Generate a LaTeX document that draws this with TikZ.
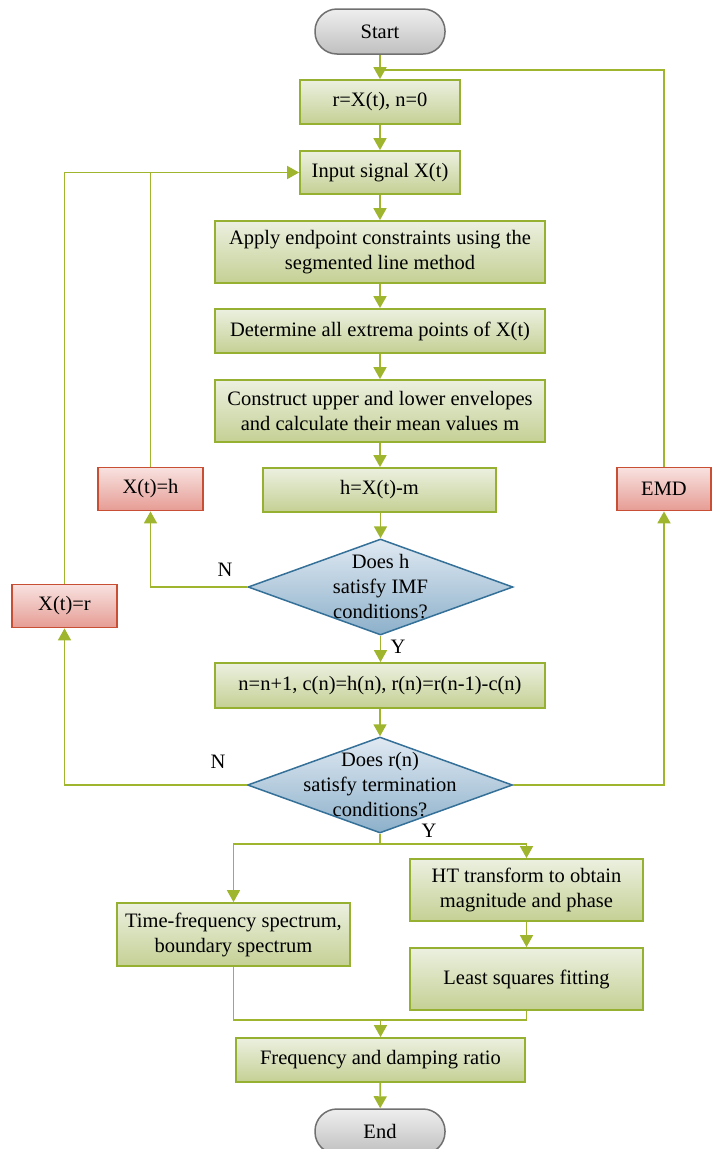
\documentclass[tikz,border=0pt]{standalone}
\usepackage{fontspec}
\setmainfont{Liberation Serif}
\usetikzlibrary{arrows.meta,shapes.geometric}
\definecolor{lnc}{RGB}{158,181,45}
\definecolor{gbd}{RGB}{150,176,50}
\definecolor{gtop}{RGB}{236,240,224}
\definecolor{gbot}{RGB}{196,208,148}
\definecolor{rbd}{RGB}{200,78,52}
\definecolor{rtop}{RGB}{248,226,224}
\definecolor{rbot}{RGB}{230,156,148}
\definecolor{bbd}{RGB}{52,112,152}
\definecolor{btop}{RGB}{224,233,242}
\definecolor{bbot}{RGB}{140,176,202}
\definecolor{tbd}{RGB}{112,112,112}
\definecolor{ttop}{RGB}{238,238,238}
\definecolor{tbot}{RGB}{192,192,192}
\tikzset{
  txt/.style={font=\fontsize{20.5}{25}\selectfont, align=center, text=black},
  gbox/.style={txt, draw=gbd, line width=1.8pt, top color=gtop, bottom color=gbot, inner sep=0pt},
  rbox/.style={txt, draw=rbd, line width=1.8pt, top color=rtop, bottom color=rbot, inner sep=0pt, minimum width=105pt, minimum height=43pt},
  term/.style={txt, draw=tbd, line width=1.5pt, top color=ttop, bottom color=tbot, rounded corners=22pt, minimum width=130pt, minimum height=45pt, inner sep=0pt},
  dia/.style={diamond, draw=bbd, line width=1.5pt, top color=btop, bottom color=bbot, inner sep=0pt, minimum width=265pt, minimum height=96pt},
  diatext/.style={txt, inner sep=0pt},
  conn/.style={draw=lnc, line width=1.8pt, -{Triangle[width=13pt,length=12pt]}},
  plain/.style={draw=lnc, line width=1.8pt},
  lab/.style={txt, inner sep=0pt}
}
\begin{document}
\begin{tikzpicture}[x=1pt,y=-1pt]
\useasboundingbox (0,0) rectangle (712,1149);
% nodes
\node[term] (start) at (380,31.5) {Start};
\node[gbox, minimum width=160pt, minimum height=44pt] (r0) at (380,102) {r=X(t), n=0};
\node[gbox, minimum width=160pt, minimum height=43pt] (input) at (380,172.5) {Input signal X(t)};
\node[gbox, minimum width=330pt, minimum height=62pt] (apply) at (380,252) {Apply endpoint constraints using the\\segmented line method};
\node[gbox, minimum width=330pt, minimum height=44pt] (extr) at (380,331) {Determine all extrema points of X(t)};
\node[gbox, minimum width=330pt, minimum height=62pt] (env) at (380,411) {Construct upper and lower envelopes\\and calculate their mean values m};
\node[gbox, minimum width=233pt, minimum height=44pt] (hbox) at (379.5,490) {h=X(t)-m};
\node[rbox] (xh) at (150.5,489) {X(t)=h};
\node[rbox, minimum width=94pt] (emd) at (664,489) {EMD};
\node[dia] (d1) at (380.5,587) {};
\node[diatext] at (d1.center) {Does h\\satisfy IMF\\conditions?};
\node[rbox] (xr) at (64.5,606) {X(t)=r};
\node[gbox, minimum width=330pt, minimum height=45pt] (nbox) at (380,685.5) {n=n+1, c(n)=h(n), r(n)=r(n-1)-c(n)};
\node[dia] (d2) at (380,785) {};
\node[diatext] at (d2.center) {Does r(n)\\satisfy termination\\conditions?};
\node[gbox, minimum width=233pt, minimum height=63pt] (tf) at (233.5,934.5) {Time-frequency spectrum,\\boundary spectrum};
\node[gbox, minimum width=233pt, minimum height=62pt] (ht) at (526.5,890) {HT transform to obtain\\magnitude and phase};
\node[gbox, minimum width=233pt, minimum height=62pt] (ls) at (526.5,979) {Least squares fitting};
\node[gbox, minimum width=289pt, minimum height=44pt] (freq) at (380.5,1060) {Frequency and damping ratio};
\node[term] (end) at (380,1131.5) {End};
% junction coordinates
\coordinate (j1) at (380,70);
\coordinate (br) at (380,844);
\coordinate (mg) at (380.5,1020);
% labels
\node[lab] at (225,570) {N};
\node[lab] at (398,647) {Y};
\node[lab] at (218,762) {N};
\node[lab] at (429,831) {Y};
% connectors
\draw[conn] (start) -- (r0);
\draw[conn] (r0) -- (input);
\draw[conn] (input) -- (apply);
\draw[conn] (apply) -- (extr);
\draw[conn] (extr) -- (env);
\draw[conn] (env) -- (hbox.north -| env.center);
\draw[conn] (hbox.south -| d1.north) -- (d1.north);
\draw[conn] (d1.south) -- (nbox.north -| d1.south);
\draw[conn] (nbox.south -| d2.north) -- (d2.north);
\draw[conn] (d1.west) -| (xh.south);
\draw[conn] (xh.north) |- (input.west);
\draw[plain] (xr.north) |- (xh.north |- input.west);
\draw[conn] (d2.west) -| (xr.south);
\draw[conn] (d2.east) -| (emd.south);
\draw[plain] (emd.north) |- (j1);
\draw[plain] (d2.south) -- (br);
\draw[conn] (br) -| (tf.north);
\draw[conn] (br) -| (ht.north);
\draw[conn] (ht) -- (ls);
\draw[plain] (tf.south) |- (mg);
\draw[plain] (ls.south) |- (mg);
\draw[conn] (mg) -- (freq.north);
\draw[conn] (freq) -- (end);
\end{tikzpicture}
\end{document}
